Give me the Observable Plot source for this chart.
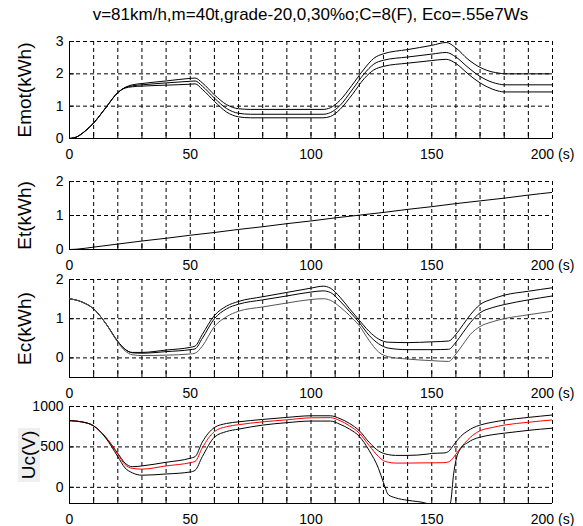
<!DOCTYPE html>
<html><head><meta charset="utf-8">
<script src="https://cdn.jsdelivr.net/npm/d3@7"></script>
<script src="https://cdn.jsdelivr.net/npm/@observablehq/plot@0.6"></script>
<style>
body{margin:0;background:#fff;}
#c{position:relative;width:583px;height:526px;overflow:hidden;background:#fff;font-family:"Liberation Sans",Arial,sans-serif;}
#c svg{position:absolute;left:0;background:transparent;z-index:1;overflow:visible;}
#title{position:absolute;left:0;width:621px;top:5px;text-align:center;font-size:17px;line-height:20px;color:#000;white-space:nowrap;}
#ucbg{position:absolute;left:18px;top:428px;width:22px;height:54px;background:#efefef;z-index:0;}
</style></head>
<body><div id="c"><div id="title">v=81km/h,m=40t,grade-20,0,30%o;C=8(F), Eco=.55e7Ws</div><div id="ucbg"></div></div>
<script>
// ---- data ----
const xGrid = [0,10,20,30,40,50,60,70,80,90,100,110,120,130,140,150,160,170,180,190,200];
const xLabels = [0,50,100,150,200];

const tEm = [0,3,6,10,15,20,23,26,30,40,50,52,55,60,65,70,75,105,108,112,117,122,126,130,140,150,156,160,165,170,175,178,180,200];
const emA = [0,.05,.2,.48,.95,1.42,1.58,1.66,1.7,1.78,1.86,1.87,1.72,1.35,1.05,.92,.9,.9,.95,1.18,1.65,2.15,2.48,2.62,2.75,2.88,2.97,2.8,2.45,2.2,2.06,2.02,2.0,2.0];
const emB = [0,.05,.2,.48,.95,1.42,1.57,1.63,1.66,1.72,1.77,1.78,1.62,1.25,.93,.78,.75,.75,.8,1.02,1.5,2.0,2.3,2.42,2.52,2.61,2.66,2.52,2.2,1.92,1.74,1.68,1.66,1.66];
const emC = [0,.05,.2,.48,.95,1.42,1.56,1.6,1.62,1.65,1.68,1.69,1.52,1.15,.82,.67,.64,.64,.68,.9,1.35,1.85,2.12,2.23,2.33,2.41,2.45,2.32,2.0,1.72,1.53,1.46,1.44,1.44];

const tEt = [0,3,10,20,30,40,50,60,70,80,90,100,110,120,130,140,150,160,170,180,190,200];
const et  = [0,0.01,0.07,0.16,0.25,0.33,0.42,0.5,0.59,0.67,0.76,0.84,0.93,1.01,1.09,1.18,1.26,1.35,1.43,1.51,1.6,1.68];

const tEc = [0,5,10,15,20,23,26,30,40,50,52,55,60,65,70,80,90,100,105,108,112,116,120,124,128,132,140,150,157,160,163,166,170,175,180,190,200];
const ecA = [1.51,1.43,1.25,.88,.42,.22,.14,.14,.2,.27,.3,.6,1.08,1.32,1.44,1.56,1.67,1.78,1.83,1.78,1.55,1.25,.96,.68,.48,.4,.39,.41,.43,.6,.85,1.1,1.36,1.5,1.6,1.7,1.79];
const ecB = [1.51,1.43,1.25,.88,.42,.22,.13,.12,.16,.21,.23,.5,1.0,1.25,1.37,1.48,1.58,1.68,1.71,1.67,1.45,1.18,.9,.58,.36,.25,.21,.21,.22,.4,.65,.9,1.15,1.28,1.36,1.48,1.58];
const ecC = [1.51,1.43,1.25,.88,.4,.18,.08,.06,.07,.1,.12,.3,.8,1.05,1.19,1.3,1.4,1.49,1.51,1.47,1.3,1.08,.82,.45,.15,.03,-.03,-.07,-.09,.1,.35,.6,.8,.92,1.0,1.1,1.19];

const tUc = [0,5,10,15,20,23,26,30,40,50,52,55,60,65,70,80,90,100,108,112,116,120,124,128,130,132,135,140,148,150,155,157,158,159,160,162,165,167,170,175,180,190,200];
const ucTop = [825,810,760,620,420,300,255,265,310,360,380,560,740,790,810,840,865,885,885,850,790,700,560,450,420,405,395,395,410,420,425,445,480,520,560,630,700,735,770,805,830,865,895];
const ucRed = [825,810,760,620,410,280,235,225,265,305,320,490,690,750,775,810,835,860,862,825,760,670,520,380,330,310,300,300,303,303,305,315,335,370,410,490,590,645,700,740,770,805,834];
const ucBot = [825,810,760,610,380,240,180,150,165,190,210,380,620,690,720,770,800,820,820,780,720,630,460,230,60,-90,-130,-160,-200,-240,-300,-260,-150,150,330,480,555,590,620,650,670,705,732];

// ---- helpers ----
function rows(t, vals, s){ return t.map((d,i)=>({t:d, v:vals[i], s})); }
const FONT = '"Liberation Sans", Arial, sans-serif';
const W = 483;

function panel({top, H, ydomain, yticks, ylabel, labelDx, series}){
  const data = series.flatMap(s => rows(s.t, s.v, s.name));
  const colors = Object.fromEntries(series.map(s=>[s.name, s.color]));
  const svg = Plot.plot({
    width: 583, height: H + 35,
    marginLeft: 69, marginRight: 31, marginTop: 10, marginBottom: 25,
    x: {domain: [0,200]},
    y: {domain: ydomain},
    style: {background: "transparent", fontFamily: FONT, fontSize: "14px", color: "#000", overflow: "visible"},
    marks: [
      Plot.gridX({ticks: xGrid, stroke: "#000", strokeOpacity: 1, strokeDasharray: "4,3"}),
      Plot.gridY({ticks: yticks, stroke: "#000", strokeOpacity: 1, strokeDasharray: "4,3"}),
      Plot.tickX(xGrid, {x: d=>d, insetTop: H - 6, stroke: "#000"}),
      Plot.tickY(yticks, {y: d=>d, insetRight: W - 5, stroke: "#000"}),
      Plot.ruleX([0], {stroke: "#000"}),
      Plot.ruleY([ydomain[0]], {stroke: "#000"}),
      Plot.axisX({ticks: xLabels, tickSize: 0, tickPadding: 11, tickFormat: d => d === 200 ? "200 (s)" : String(d), fontSize: 14, label: null}),
      Plot.axisY({ticks: yticks, tickSize: 0, tickPadding: 6, tickFormat: d => String(d), fontSize: 14, label: null}),
      Plot.line(data, {x: "t", y: "v", z: "s", stroke: d => colors[d.s], strokeWidth: 1, curve: "monotone-x", clip: true}),
      Plot.text([ylabel], {text: d=>d, frameAnchor: "left", textAnchor: "middle", dx: labelDx, rotate: -90, fontSize: 19, fill: "#000"})
    ]
  });
  svg.style.top = (top - 10) + "px";
  document.getElementById("c").appendChild(svg);
}

panel({top: 41, H: 97, ydomain: [0,3], yticks: [0,1,2,3], ylabel: "Emot(kWh)", labelDx: -45,
  series: [{name:"a", t:tEm, v:emA, color:"#000"},{name:"b", t:tEm, v:emB, color:"#000"},{name:"c", t:tEm, v:emC, color:"#000"}]});
panel({top: 181, H: 68, ydomain: [0,2], yticks: [0,1,2], ylabel: "Et(kWh)", labelDx: -45,
  series: [{name:"a", t:tEt, v:et, color:"#000"}]});
panel({top: 279, H: 98, ydomain: [-0.5,2], yticks: [0,1,2], ylabel: "Ec(kWh)", labelDx: -45,
  series: [{name:"a", t:tEc, v:ecA, color:"#000"},{name:"b", t:tEc, v:ecB, color:"#000"},{name:"c", t:tEc, v:ecC, color:"#555"}]});
panel({top: 406, H: 97, ydomain: [-200,1000], yticks: [0,500,1000], ylabel: "Uc(V)", labelDx: -41,
  series: [{name:"a", t:tUc, v:ucTop, color:"#000"},{name:"r", t:tUc, v:ucRed, color:"#ff0000"},{name:"b", t:tUc, v:ucBot, color:"#000"}]});
</script></body></html>
